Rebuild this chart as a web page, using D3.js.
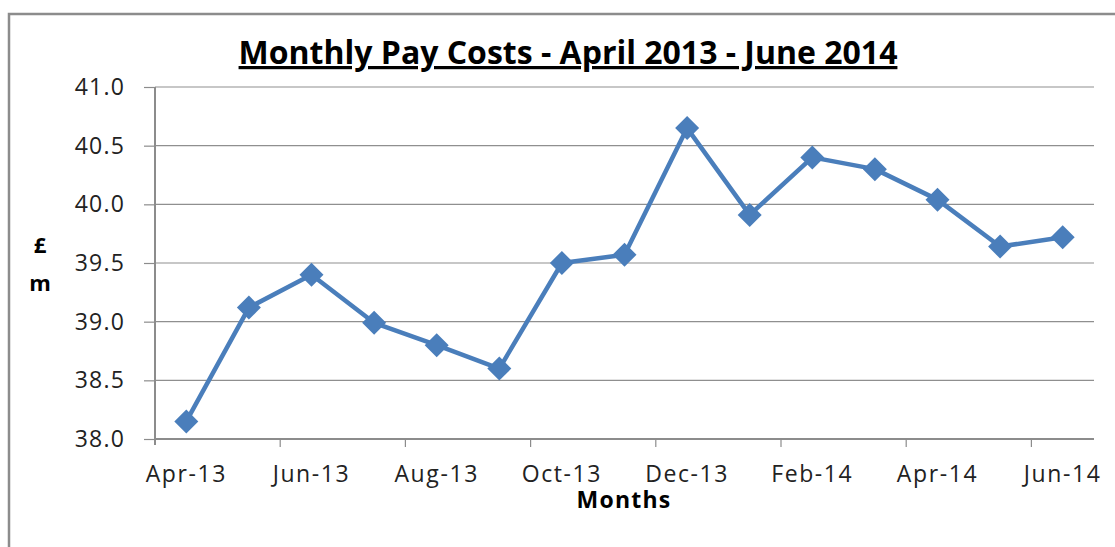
<!DOCTYPE html>
<html>
<head>
<meta charset="utf-8">
<script src="https://cdn.jsdelivr.net/npm/d3@7"></script>
<style>
  body { margin: 0; background: #fff; }
  text { font-family: "Open Sans", Lato, sans-serif; }
</style>
</head>
<body>
<div id="chart"></div>
<script>
// data
var months = ["Apr-13", "May-13", "Jun-13", "Jul-13", "Aug-13", "Sep-13", "Oct-13", "Nov-13",
  "Dec-13", "Jan-14", "Feb-14", "Mar-14", "Apr-14", "May-14", "Jun-14"];
var payCosts = [38.15, 39.12, 39.40, 38.99, 38.80, 38.60, 39.50, 39.57,
  40.65, 39.91, 40.40, 40.30, 40.04, 39.64, 39.72];
var yTicks = [38.0, 38.5, 39.0, 39.5, 40.0, 40.5, 41.0];

// svg container
var svgWidth = 1115;
var svgHeight = 547;

// plot area
var margin = { top: 87, right: 21, bottom: 108, left: 155 };
var chartWidth = svgWidth - margin.left - margin.right;
var chartHeight = svgHeight - margin.top - margin.bottom;

var svg = d3.select("#chart").append("svg")
  .attr("width", svgWidth)
  .attr("height", svgHeight);

// outer chart border (runs off the right and bottom)
svg.append("rect")
  .attr("x", 9).attr("y", 14)
  .attr("width", 1200).attr("height", 700)
  .attr("fill", "none")
  .attr("stroke", "#8c8c8c")
  .attr("stroke-width", 2.5);

var chartGroup = svg.append("g")
  .attr("transform", `translate(${margin.left}, ${margin.top})`);

var xScale = d3.scaleBand()
  .domain(months)
  .range([0, chartWidth]);

var yScale = d3.scaleLinear()
  .domain([38, 41])
  .range([chartHeight, 0]);

// gridlines
chartGroup.selectAll(".grid")
  .data(yTicks.slice(1))
  .enter()
  .append("line")
  .attr("x1", 0).attr("x2", chartWidth)
  .attr("y1", d => yScale(d)).attr("y2", d => yScale(d))
  .attr("stroke", "#8f8f8f")
  .attr("stroke-width", 1.2);

// y axis
var yAxis = d3.axisLeft(yScale)
  .tickValues(yTicks)
  .tickFormat(d3.format(".1f"))
  .tickSize(11)
  .tickPadding(19);

var yG = chartGroup.append("g").call(yAxis);
yG.select(".domain").attr("stroke", "#8c8c8c").attr("stroke-width", 2)
  .attr("d", `M0,0V${chartHeight + 6}`);
yG.selectAll(".tick line").attr("stroke", "#8c8c8c").attr("stroke-width", 1.2)
  .attr("x1", 0);
yG.selectAll(".tick text")
  .attr("font-size", 23)
  .attr("letter-spacing", 1.2)
  .attr("fill", "#222")
  .style("font-family", "'Open Sans', Lato, sans-serif");

// x axis: ticks on band edges every two months, labels every two months
var xG = chartGroup.append("g")
  .attr("transform", `translate(0, ${chartHeight})`);

xG.append("line")
  .attr("x1", 0).attr("x2", chartWidth)
  .attr("y1", 0).attr("y2", 0)
  .attr("stroke", "#8c8c8c")
  .attr("stroke-width", 2);

var edgeMonths = months.filter((d, i) => i % 2 === 0 && i > 0);
xG.selectAll(".xtick")
  .data(edgeMonths)
  .enter()
  .append("line")
  .attr("x1", d => xScale(d)).attr("x2", d => xScale(d))
  .attr("y1", 0).attr("y2", 8)
  .attr("stroke", "#8c8c8c")
  .attr("stroke-width", 1.2);

xG.selectAll(".xlabel")
  .data(months.filter((d, i) => i % 2 === 0))
  .enter()
  .append("text")
  .attr("x", d => xScale(d) + xScale.bandwidth() / 2)
  .attr("y", 43)
  .attr("text-anchor", "middle")
  .attr("font-size", 23)
  .attr("letter-spacing", 1.6)
  .attr("fill", "#222")
  .text(d => d);

// line
var line = d3.line()
  .x((d, i) => xScale(months[i]) + xScale.bandwidth() / 2)
  .y(d => yScale(d));

chartGroup.append("path")
  .datum(payCosts)
  .attr("d", line)
  .attr("fill", "none")
  .attr("stroke", "#4a7ebb")
  .attr("stroke-width", 4.5)
  .attr("stroke-linejoin", "round");

// diamond markers
chartGroup.selectAll(".marker")
  .data(payCosts)
  .enter()
  .append("path")
  .attr("d", "M0,-12L12,0L0,12L-12,0Z")
  .attr("transform", (d, i) => `translate(${xScale(months[i]) + xScale.bandwidth() / 2}, ${yScale(d)})`)
  .attr("fill", "#4a7ebb");

// title
svg.append("text")
  .attr("x", 568).attr("y", 64)
  .attr("text-anchor", "middle")
  .attr("font-size", 32)
  .attr("font-weight", "bold")
  .attr("text-decoration", "underline")
  .attr("fill", "#000")
  .text("Monthly Pay Costs - April 2013 - June 2014");

// axis titles
svg.append("text")
  .attr("x", 624).attr("y", 508)
  .attr("text-anchor", "middle")
  .attr("font-size", 23)
  .attr("letter-spacing", 1.2)
  .attr("font-weight", "bold")
  .text("Months");

svg.append("text")
  .attr("x", 40).attr("y", 253)
  .attr("text-anchor", "middle")
  .attr("font-size", 22)
  .attr("font-weight", "bold")
  .text("£");

svg.append("text")
  .attr("x", 40).attr("y", 291)
  .attr("text-anchor", "middle")
  .attr("font-size", 22)
  .attr("font-weight", "bold")
  .text("m");
</script>
</body>
</html>
